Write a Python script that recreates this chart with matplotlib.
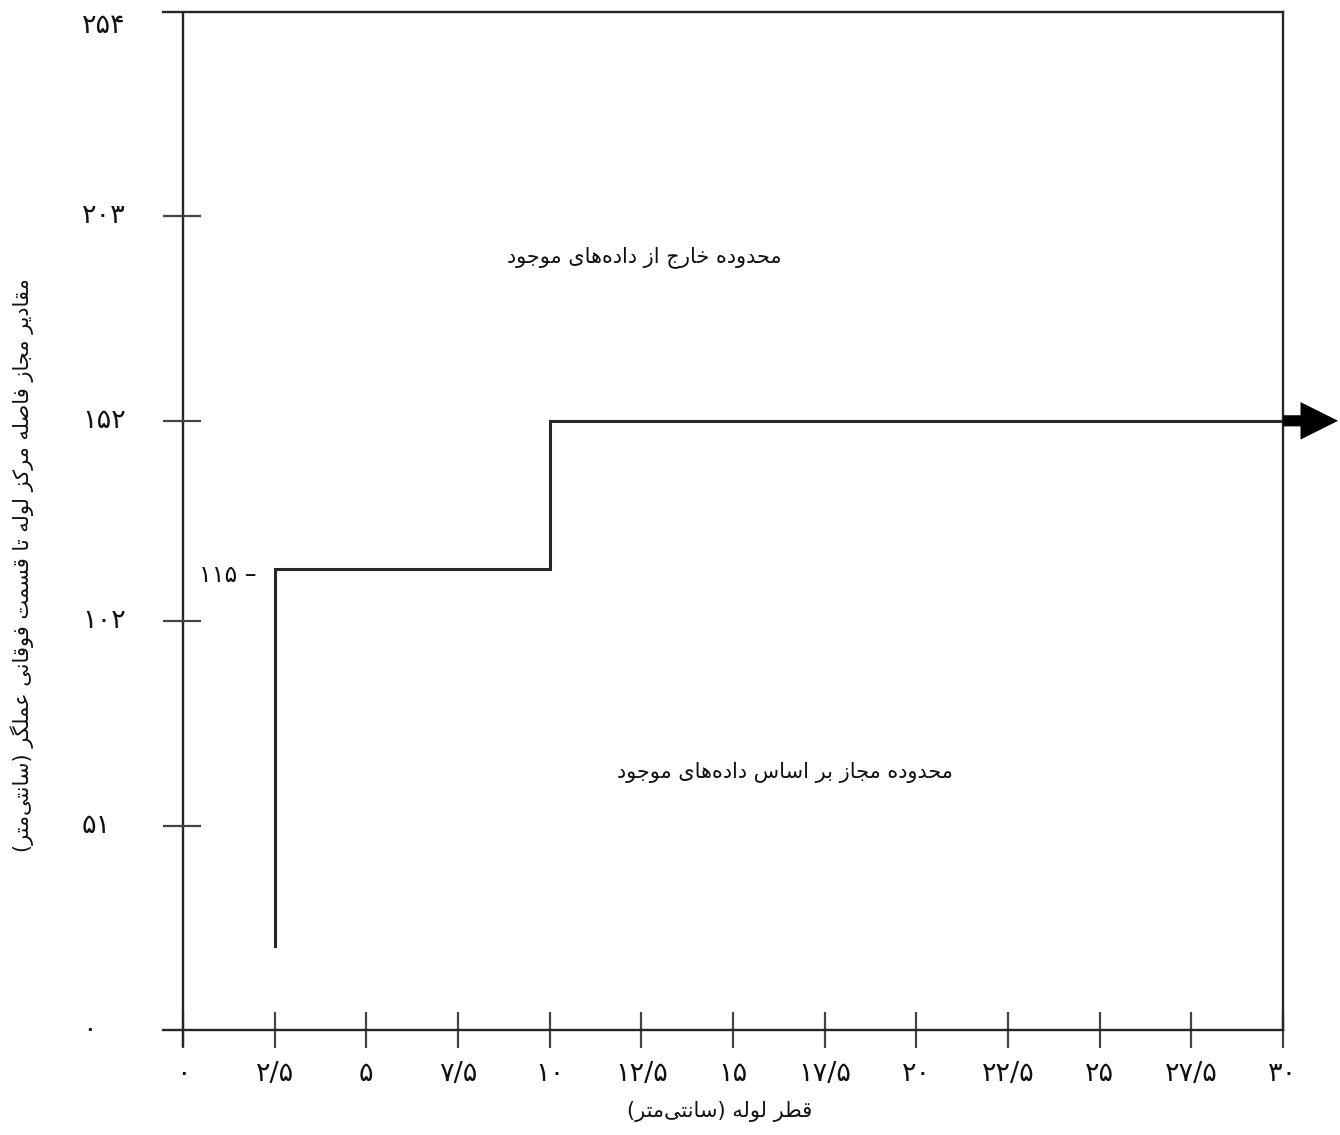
import matplotlib
matplotlib.use("Agg")
import matplotlib.pyplot as plt
from matplotlib import transforms

plt.rcParams["font.family"] = ["DejaVu Sans"]

# ---- data -------------------------------------------------------------
step_x = [2.5, 2.5, 10, 10, 30]
step_y = [21, 115, 115, 152, 152]
step_label = "۱۱۵ –"

x_ticks = [0, 2.5, 5, 7.5, 10, 12.5, 15, 17.5, 20, 22.5, 25, 27.5, 30]
x_tick_labels = ["۰", "۲/۵", "۵", "۷/۵", "۱۰", "۱۲/۵", "۱۵", "۱۷/۵",
                 "۲۰", "۲۲/۵", "۲۵", "۲۷/۵", "۳۰"]
y_ticks = [0, 51, 102, 152, 203, 254]
y_tick_labels = ["۰", "۵۱", "۱۰۲", "۱۵۲", "۲۰۳", "۲۵۴"]

x_label = "قطر لوله (سانتی‌متر)"
y_label = "مقادیر مجاز فاصله مرکز لوله تا قسمت فوقانی عملگر (سانتی‌متر)"
upper_region = "محدوده خارج از داده‌های موجود"
lower_region = "محدوده مجاز بر اساس داده‌های موجود"

# ---- minimal Arabic/Persian shaping (isolated, final, initial, medial) --
FORMS = {
    "ا": ("\uFE8D", "\uFE8E", None, None),
    "ب": ("\uFE8F", "\uFE90", "\uFE91", "\uFE92"),
    "ت": ("\uFE95", "\uFE96", "\uFE97", "\uFE98"),
    "ج": ("\uFE9D", "\uFE9E", "\uFE9F", "\uFEA0"),
    "ح": ("\uFEA1", "\uFEA2", "\uFEA3", "\uFEA4"),
    "خ": ("\uFEA5", "\uFEA6", "\uFEA7", "\uFEA8"),
    "د": ("\uFEA9", "\uFEAA", None, None),
    "ر": ("\uFEAD", "\uFEAE", None, None),
    "ز": ("\uFEAF", "\uFEB0", None, None),
    "س": ("\uFEB1", "\uFEB2", "\uFEB3", "\uFEB4"),
    "ص": ("\uFEB9", "\uFEBA", "\uFEBB", "\uFEBC"),
    "ط": ("\uFEC1", "\uFEC2", "\uFEC3", "\uFEC4"),
    "ع": ("\uFEC9", "\uFECA", "\uFECB", "\uFECC"),
    "ف": ("\uFED1", "\uFED2", "\uFED3", "\uFED4"),
    "ق": ("\uFED5", "\uFED6", "\uFED7", "\uFED8"),
    "ل": ("\uFEDD", "\uFEDE", "\uFEDF", "\uFEE0"),
    "م": ("\uFEE1", "\uFEE2", "\uFEE3", "\uFEE4"),
    "ن": ("\uFEE5", "\uFEE6", "\uFEE7", "\uFEE8"),
    "ه": ("\uFEE9", "\uFEEA", "\uFEEB", "\uFEEC"),
    "و": ("\uFEED", "\uFEEE", None, None),
    "ی": ("\uFBFC", "\uFBFD", "\uFBFE", "\uFBFF"),
    "ک": ("\uFB8E", "\uFB8F", "\uFB90", "\uFB91"),
    "گ": ("\uFB92", "\uFB93", "\uFB94", "\uFB95"),
}
MIRROR = {"(": ")", ")": "("}


def rtl(text):
    out = []
    n = len(text)
    for i, ch in enumerate(text):
        if ch == "\u200c":
            continue
        if ch not in FORMS:
            out.append(MIRROR.get(ch, ch))
            continue
        prev = text[i - 1] if i > 0 else ""
        nxt = text[i + 1] if i + 1 < n else ""
        iso, fin, ini, med = FORMS[ch]
        join_prev = prev in FORMS and FORMS[prev][2] is not None
        join_next = ini is not None and nxt in FORMS
        if join_prev and join_next:
            out.append(med)
        elif join_prev:
            out.append(fin)
        elif join_next:
            out.append(ini)
        else:
            out.append(iso)
    return "".join(reversed(out))


# ---- figure -----------------------------------------------------------
W, H = 1340, 1135
fig = plt.figure(figsize=(W / 100, H / 100), dpi=100)
ax = fig.add_axes([163 / W, 1 - 1030 / H, (1283 - 163) / W, (1030 - 12) / H])
ax.set_xlim(-0.545, 30)
ax.set_ylim(0, 254)

ink = "#262626"
tick_ink = "#444"
frame_lw = 1.7
num_size = 19.5

for side in ("top", "right", "bottom"):
    ax.spines[side].set_color(ink)
    ax.spines[side].set_linewidth(frame_lw)
ax.spines["left"].set_visible(False)

# vertical axis through x = 0, running slightly below the baseline
ax.plot([0, 0], [-4.2, 254], color=ink, lw=frame_lw, clip_on=False,
        solid_capstyle="butt")

# ticks
ax.set_xticks(x_ticks)
ax.set_xticklabels(x_tick_labels, fontsize=num_size, color="#111")
ax.tick_params(axis="x", direction="inout", length=26, width=1.6,
               color=tick_ink, pad=9.5)
ax.set_yticks([])
ax.hlines(y_ticks[1:-1], -0.57, 0.48, color=tick_ink, lw=1.6)

# y tick labels, left aligned in the margin
ylab_tr = transforms.blended_transform_factory(fig.transFigure, ax.transData)
for v, lab in zip(y_ticks, y_tick_labels):
    tr = ylab_tr
    if v == max(y_ticks):
        tr = ylab_tr + transforms.ScaledTranslation(0, -14 / 100, fig.dpi_scale_trans)
    ax.text(82 / W, v, lab, transform=tr, ha="left", va="center",
            fontsize=num_size, color="#111", clip_on=False)

# boundary of the admissible region
ax.plot(step_x, step_y, color=ink, lw=2.2, solid_joinstyle="miter",
        clip_on=False)
ax.annotate("", xy=(31.5, step_y[-1]), xytext=(step_x[-1], step_y[-1]),
            xycoords="data", textcoords="data", annotation_clip=False,
            arrowprops=dict(arrowstyle="simple,head_length=27,head_width=27,tail_width=8",
                            mutation_scale=1, color="black", shrinkA=0,
                            shrinkB=0, lw=0))

lab_tr = ax.transData + transforms.ScaledTranslation(-18 / 100, -6 / 100,
                                                     fig.dpi_scale_trans)
ax.text(step_x[1], step_y[1], step_label, transform=lab_tr, ha="right",
        va="center", fontsize=17, color="#111")

# region captions
ax.text(0.430, 0.759, rtl(upper_region), transform=ax.transAxes,
        ha="center", va="center", fontsize=15, color="#111")
ax.text(0.555, 0.253, rtl(lower_region), transform=ax.transAxes,
        ha="center", va="center", fontsize=15, color="#111")

# axis titles
fig.text(720 / W, 1 - 1112 / H, rtl(x_label), ha="center", va="center",
         fontsize=15, color="#111")
fig.text(22 / W, 1 - 565 / H, rtl(y_label), ha="center", va="center",
         rotation=90, fontsize=15, color="#111")

fig.savefig("out.png", dpi=100, facecolor="white")
